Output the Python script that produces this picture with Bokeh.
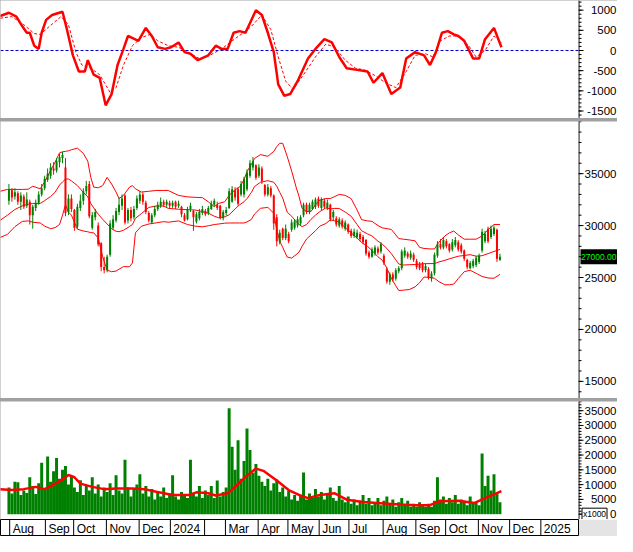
from bokeh.plotting import figure
from bokeh.models import Range1d, Span, ColumnDataSource
from bokeh.layouts import column, row
from bokeh.embed import file_html
from bokeh.resources import INLINE
from bokeh.core.properties import value

# ---------------- data ----------------
# x is the trading-day index (0 = mid July 2023)
candle_day = list(range(6, 337, 2))
c_open = [32400,33400,32800,33100,32300,32800,31900,32300,31000,31700,
          32200,33000,33600,34400,34800,35500,35300,36100,36500,35600,
          31300,32600,31500,29900,31700,32400,33300,34000,29800,30800,
          30000,28300,26000,25700,27200,29800,30500,31300,31900,32900,
          30500,31500,30800,31700,32400,33000,32200,31200,30300,31000,
          31600,31900,32300,32000,32200,31900,32300,31900,31800,31000,
          30600,31600,31400,30400,30700,31200,31400,31200,31600,32000,
          32000,31900,30700,31200,31700,32300,33400,33500,33000,33000,
          33500,34800,35600,35800,34800,35500,33900,33000,33600,32900,
          30800,28400,29700,28800,29200,29600,29800,30000,30200,31000,
          32000,31300,31600,31800,32600,31700,32400,31700,32000,30800,
          30700,30000,30500,29700,30100,29500,29000,28900,29200,28900,
          28600,27400,27000,27300,27800,27500,27100,25800,24600,25300,
          24900,25600,25900,27100,27300,26900,27200,26600,26300,26300,
          25700,25800,24900,25400,27100,28200,27900,28500,28200,27700,
          28100,28400,28100,27600,26700,25900,26100,26200,26500,27600,
          28500,29700,28900,29200,29600,26700]
c_high = [34000,33600,33600,33300,33200,33000,33200,32500,32000,32500,
          33300,34000,34800,35500,36000,36100,36500,36900,37100,36500,
          33000,33000,31600,32100,33000,33600,34300,34300,31300,31600,
          30300,28400,27000,27200,30500,31000,31700,32700,33000,33000,
          31700,31800,31900,32900,33300,33200,32400,31400,31200,31900,
          32300,32700,32500,32500,32400,32400,32400,32400,31900,31200,
          31800,32200,31500,31300,31600,31900,31600,31900,32400,32600,
          32300,32000,31500,31800,33600,33800,33700,33700,34300,34700,
          35400,36300,36600,35900,35900,35700,34000,34000,33800,33000,
          31100,29600,29800,30100,29400,30600,30600,30900,31000,32200,
          32200,32200,32500,32700,32800,32700,32600,32500,32100,31500,
          30900,30800,30700,30500,30200,29700,29700,29600,29400,29100,
          28700,27600,27900,28100,28000,28400,27300,26000,25500,25500,
          25900,26100,27700,27900,27500,27600,27400,26800,26500,26500,
          26300,26000,25600,27400,28500,28700,28900,28700,28300,28700,
          28900,28600,28300,27700,26800,26600,26800,27100,27300,29700,
          29500,29900,30000,30000,29700,27300]
c_low = [32000,32300,32500,32000,31500,31600,31700,30100,29700,31400,
         32000,32800,33400,34200,34500,34900,35100,35600,36000,30900,
         31000,31300,29500,29700,31400,32000,33000,30700,29600,30500,
         28000,25600,25400,25500,27000,29600,30300,31000,31500,30100,
         30200,30400,30600,31500,32100,32000,31100,30300,30200,30800,
         31400,31700,31800,31800,31700,31700,31600,31700,30800,30400,
         30500,31300,29500,30200,30500,31000,30900,31000,31500,31800,
         31500,30600,30500,31000,31600,32200,32400,31900,32800,32700,
         33300,34600,35300,34400,34600,34000,32800,32800,32700,29600,
         28000,28200,28600,28600,28300,29400,29600,29800,30000,30800,
         31100,31100,31500,31600,31700,31500,31600,31500,30400,30500,
         29900,29800,29700,29500,29200,28800,28800,28700,28500,28200,
         27100,26800,26900,27100,27200,27300,26200,24400,24300,24600,
         24700,25400,25700,26900,26800,26700,26500,25800,25700,25500,
         25500,24800,24600,25200,26900,27700,27700,27800,27400,27500,
         27900,27500,27300,26600,25800,25800,25900,26000,26300,27400,
         28300,28300,28700,29000,26500,26600]
c_close = [33500,32700,33200,32300,32900,31800,32500,31000,31800,32200,
           33000,33600,34500,35000,35600,35300,36200,36600,36800,31200,
           32600,31600,29800,31800,32400,33300,33800,30900,31000,31300,
           28200,26000,25700,27000,30200,30600,31400,32000,32600,30300,
           31500,30700,31600,32600,33000,32300,31300,30500,31000,31600,
           32000,32300,32000,32300,31900,32200,31800,32100,31100,30500,
           31600,31900,30800,31100,31300,31600,31100,31700,32100,32400,
           31700,30700,31300,31500,33300,33500,32700,32100,34000,34500,
           35100,36000,36200,34600,35600,34300,33000,33700,32900,30200,
           28500,29300,28800,29700,28500,30300,30400,30600,30800,32000,
           31300,32000,32300,32500,31900,32500,31800,32200,30600,31300,
           30100,30600,29900,30300,29400,29000,29400,29300,28700,28400,
           27300,27000,27700,27900,27400,28200,26400,24600,25300,24800,
           25700,25900,27500,27600,27000,27300,26700,26000,25900,25700,
           26100,25000,25400,27200,28200,27900,28600,28000,27600,28400,
           28600,27700,27500,26800,26000,26400,26600,26900,27100,29400,
           29200,28500,29700,29800,26800,27000]
last_price = 27000

band_day = [0,5,10,15,19,22,27,30,34,37,40,42,44,46,48,52,56,59,61,63,
            66,69,72,75,78,80,83,87,89,91,95,100,105,110,113,120,126,131,136,140,
            144,147,151,154,158,161,164,166,169,171,175,180,184,186,188,190,193,196,199,201,
            203,206,209,212,215,219,222,225,228,232,236,240,243,247,250,254,257,260,263,266,
            268,271,275,279,282,285,289,292,295,299,302,305,308,312,316,320,324,328,332,336]
band_upper = [33300,33480,33480,33480,33500,33790,33540,34200,35300,36100,
              37000,37100,37140,37200,37300,37450,36950,36200,34640,33700,
              33640,33850,34640,34000,33230,32600,32910,33700,33850,33540,
              33230,33300,33380,33380,33380,32900,32760,32720,32690,32290,
              31820,32130,32290,32910,33450,33700,34400,35200,35900,36450,
              36830,36670,37140,37600,37920,37920,36670,35260,33700,32800,
              31660,31350,31350,32000,32450,32600,32600,32800,33000,32910,
              32600,31500,30570,30450,30410,30000,29780,29700,29630,29100,
              28750,28690,28620,28530,27900,27800,27750,27750,28400,29000,
              29300,29470,29100,28690,28690,28690,29000,29600,30100,30100]
band_mid = [30500,31000,31550,31900,32050,32130,32130,32400,32800,33200,
            33900,34200,34480,34480,34300,33850,33200,32760,32130,31700,
            31100,30600,30150,29700,29450,29410,29550,29900,30100,30700,
            31150,31750,31880,31880,31660,31570,31530,31500,31350,31190,
            30900,30750,30850,31040,31600,32000,32290,32600,33200,33750,
            34170,34320,34170,33800,33200,32650,31300,30900,30400,30100,
            29900,30100,30600,31000,31350,31700,31600,31650,31650,31300,
            30900,30100,29500,29200,29000,28500,28200,27800,27300,26700,
            26300,26200,26230,26250,26300,26330,26340,26340,26500,26650,
            26800,26920,27050,27120,27200,27050,27100,27300,27510,27700]
band_lower = [28850,29150,29900,30400,30450,30320,30250,29950,29700,29800,
              30100,31000,32000,31300,31000,29650,29480,29400,29320,29300,
              28800,27000,25700,25560,25620,25800,26050,26030,26400,29300,
              29940,30150,30260,30380,30320,30450,30100,29950,29880,29980,
              30100,30150,30230,30250,30250,30250,30250,30350,30600,31100,
              31660,31750,31190,29630,28500,27900,26970,26870,27200,27450,
              28000,28700,29100,29500,29950,30200,30550,30450,30350,29800,
              29300,28800,28380,28000,27600,27000,26650,25900,24930,24200,
              23750,23780,23840,24100,24500,25050,25000,24930,24600,24300,
              24300,24370,24900,25560,25700,25400,25100,24950,24930,25300]

macd_day = [0,6,11,15,18,20,23,26,28,31,35,42,45,49,53,57,59,63,67,71,
            75,79,83,86,93,98,102,106,111,115,120,124,128,133,140,145,149,153,157,161,
            165,172,176,180,184,187,191,195,200,207,212,218,223,228,233,240,247,251,257,263,
            269,273,279,285,289,293,297,301,305,308,312,318,322,326,332,337]
macd_val = [856,936,840,600,440,440,120,40,440,760,880,960,520,-120,-520,-520,-240,-600,-680,-1360,
            -1080,-360,40,360,240,560,360,80,40,80,200,-40,-80,-240,-120,120,40,40,440,480,
            440,1000,880,440,-40,-840,-1120,-1080,-760,-200,40,280,200,-160,-440,-480,-520,-800,-560,-1080,
            -920,-200,-40,-120,-360,-40,440,480,400,360,240,-200,-200,280,560,80]
signal_day = [0,8,16,23,27,32,41,46,51,55,61,67,74,78,83,89,95,101,106,113,
              120,126,134,141,149,156,162,169,176,182,187,192,197,204,212,219,225,232,239,245,
              253,259,266,273,279,286,291,296,302,308,315,320,326,332,337]
signal_val = [800,840,640,420,400,560,840,640,-40,-360,-440,-600,-1040,-920,-360,120,320,400,240,120,
              80,-40,-200,-120,40,240,400,600,880,520,-160,-760,-960,-600,-160,160,80,-240,-440,-480,
              -640,-800,-920,-520,-120,-80,-160,240,360,360,120,-160,0,360,200]

vol_day = list(range(6, 337, 2))
vol_val = [9000,7000,11000,10800,6500,8000,7200,12500,9500,6800,
           10500,17400,8200,19500,11000,14500,19000,12000,15000,16300,
           10000,13000,9000,7500,11500,6500,9500,8000,12500,7000,
           10000,6000,9000,7500,10500,6500,13200,8000,7000,18400,
           9000,6000,8500,10000,13500,7000,9500,6000,8500,5000,
           7500,6000,9000,5500,7000,13200,6000,5000,7500,6500,
           5500,18400,7000,6000,9500,5500,8000,6500,9500,5500,
           11400,6000,7500,9000,35800,22800,15000,25000,12000,18000,
           29000,21700,14000,17000,13000,11000,9500,12000,8000,10500,
           11700,7500,9000,6000,8000,5000,6500,4500,6500,14100,
           5000,7000,5500,8500,6000,7500,5000,6500,9000,5500,
           4500,9500,5000,4000,6000,3500,5000,3000,4500,6500,
           3500,5500,3000,4000,5500,3000,4500,6000,3500,5000,
           2500,4000,5500,3000,4500,2500,3500,2500,4000,3000,
           2500,3500,2500,4500,12500,5000,6000,3500,5500,4000,
           6500,3500,5000,4500,3000,6000,3500,4000,3000,20500,
           9500,13000,8000,13500,7000,4000]
volma_day = [0,8,16,24,30,35,41,46,50,54,62,70,78,89,97,105,116,127,132,140,
             145,153,158,166,172,177,186,194,202,207,215,225,233,244,258,269,279,289,295,308,
             319,326,337]
volma_val = [8470,8150,8470,9230,8470,9770,11400,13250,12490,10320,9230,8470,8690,8690,8470,7600,6520,6520,7390,7060,
             6300,7060,9230,13030,15420,14660,11400,8150,6300,5430,6520,7060,4890,4130,3580,3260,3040,3040,4340,4560,
             3800,5430,7820]

month_labels = ["Aug", "Sep", "Oct", "Nov", "Dec", "2024", "", "Mar", "Apr", "May",
                "Jun", "Jul", "Aug", "Sep", "Oct", "Nov", "Dec", "2025"]
month_start = [7, 31, 50, 72, 94, 115, 138, 152, 174, 194, 215, 235, 258, 280, 300, 322, 343, 364]

macd_ticks = [-1500, -1000, -500, 0, 500, 1000]
macd_minor = list(range(-1600, 1300, 100))
price_ticks = [15000, 20000, 25000, 30000, 35000]
price_minor = list(range(14000, 41000, 1000))
vol_ticks = [0, 5000, 10000, 15000, 20000, 25000, 30000, 35000]
vol_minor = list(range(0, 39000, 1000))

# ---------------- styling / layout ----------------
FONT = "Liberation Sans"
FRAME_W = 578
SIDE_W = 39
UP = "#008000"
DOWN = "#ff0000"
RED = "#ff0000"

xr = Range1d(0.33, 388.8)


def main_panel(h, yr):
    p = figure(frame_width=FRAME_W, frame_height=h, x_range=xr, y_range=yr,
               x_axis_location=None, y_axis_location=None, toolbar_location=None,
               output_backend="svg", min_border_left=0, min_border_right=0,
               min_border_top=0, min_border_bottom=0, outline_line_color=None,
               background_fill_color="white", border_fill_color="white")
    p.xgrid.visible = False
    p.ygrid.visible = False
    return p


def side_panel(h, yr, ticks, minor):
    s = figure(frame_width=SIDE_W, frame_height=h, x_range=Range1d(0, SIDE_W), y_range=yr,
               x_axis_location=None, y_axis_location=None, toolbar_location=None,
               output_backend="svg", min_border_left=0, min_border_right=0,
               min_border_top=0, min_border_bottom=0, outline_line_color=None,
               background_fill_color="white", border_fill_color="white")
    s.xgrid.visible = False
    s.ygrid.visible = False
    s.add_layout(Span(location=0.5, dimension="height", line_color="black", line_width=1))
    s.segment(x0=[0] * len(minor), y0=minor, x1=[3] * len(minor), y1=minor,
              line_color="black", line_width=1)
    s.segment(x0=[0] * len(ticks), y0=ticks, x1=[5] * len(ticks), y1=ticks,
              line_color="black", line_width=1)
    s.text(x=[SIDE_W - 1] * len(ticks), y=ticks, text=[str(t) for t in ticks],
           text_align="right", text_baseline="middle", text_font=value(FONT),
           text_font_size="11.5px", text_color="black")
    return s


# MACD panel
yr_macd = Range1d(-1686, 1240)
p_macd = main_panel(118, yr_macd)
p_macd.add_layout(Span(location=0, dimension="width", line_color="#0000c8",
                       line_dash="3 2", line_width=1, level="underlay"))
p_macd.line(signal_day, signal_val, line_color=RED, line_width=1, line_dash="3 2")
p_macd.line(macd_day, macd_val, line_color=RED, line_width=2.5)
s_macd = side_panel(118, yr_macd, macd_ticks, macd_minor)

# price panel
yr_price = Range1d(13352, 40019)
p_price = main_panel(277, yr_price)
colors = [UP if c >= o else DOWN for o, c in zip(c_open, c_close)]
src = ColumnDataSource(dict(x=candle_day, h=c_high, l=c_low,
                            top=[max(o, c) for o, c in zip(c_open, c_close)],
                            bottom=[min(o, c) for o, c in zip(c_open, c_close)],
                            color=colors))
p_price.line(band_day, band_upper, line_color=RED, line_width=1)
p_price.line(band_day, band_mid, line_color=RED, line_width=1)
p_price.line(band_day, band_lower, line_color=RED, line_width=1)
p_price.segment(x0="x", y0="h", x1="x", y1="l", line_color="color", line_width=1, source=src)
p_price.vbar(x="x", width=1.35, top="top", bottom="bottom", fill_color="color",
             line_color=None, source=src)
s_price = side_panel(277, yr_price, price_ticks, price_minor)
s_price.rect(x=[20.5], y=[last_price], width=[37], height=[15], width_units="screen",
             height_units="screen", fill_color="black", line_color=None)
s_price.text(x=[2.5], y=[last_price], text=[f"{last_price:.2f}"], text_align="left",
             text_baseline="middle", text_font=value(FONT), text_font_size="8.5px",
             text_color="#00ff00")

# volume panel
yr_vol = Range1d(-1800, 38111)
p_vol = main_panel(118, yr_vol)
p_vol.vbar(x=vol_day, width=2.0, top=vol_val, bottom=0, fill_color=UP, line_color=None)
p_vol.line(volma_day, volma_val, line_color=RED, line_width=2.5)
s_vol = side_panel(118, yr_vol, vol_ticks, vol_minor)
s_vol.rect(x=[16], y=[0], width=[25], height=[12], width_units="screen",
           height_units="screen", fill_color="white", line_color="black", line_width=1)
s_vol.text(x=[16], y=[0], text=["x1000"], text_align="center", text_baseline="middle",
           text_font=value(FONT), text_font_size="8.5px", text_color="black")

# month strip
strip = figure(frame_width=FRAME_W, frame_height=17, x_range=xr, y_range=Range1d(0, 1),
               x_axis_location=None, y_axis_location=None, toolbar_location=None,
               output_backend="svg", min_border_left=0, min_border_right=SIDE_W,
               min_border_top=0, min_border_bottom=0, outline_line_color="black",
               background_fill_color="white", border_fill_color="#e4e4e4")
strip.xgrid.visible = False
strip.ygrid.visible = False
sep_x = [m - 0.5 for m in month_start]
strip.segment(x0=sep_x, y0=[0] * len(sep_x), x1=sep_x, y1=[1] * len(sep_x),
              line_color="black", line_width=1)
strip.text(x=sep_x, y=[0.45] * len(sep_x), text=month_labels, x_offset=3,
           text_align="left", text_baseline="middle", text_font=value(FONT),
           text_font_size="12px", text_color="black")

panels = column(row(p_macd, s_macd, spacing=0),
                row(p_price, s_price, spacing=0),
                row(p_vol, s_vol, spacing=0),
                spacing=3, styles={"background-color": "#a0a0a0"})
layout = column(panels, strip, spacing=0)

open("out.html", "w").write(file_html(layout, INLINE))
